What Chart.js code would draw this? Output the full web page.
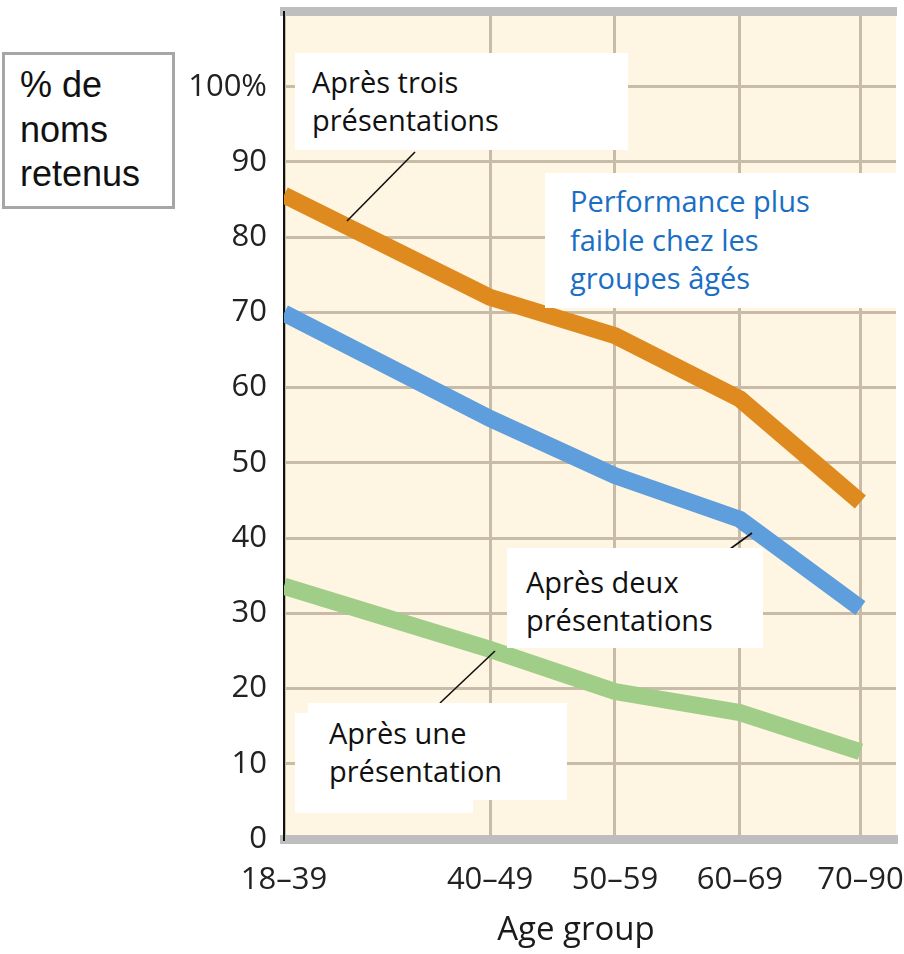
<!DOCTYPE html>
<html><head><meta charset="utf-8">
<script src="https://cdn.jsdelivr.net/npm/chart.js@4.4.1/dist/chart.umd.min.js"></script>
<style>
html,body{margin:0;padding:0;background:#fff;}
#wrap{position:relative;width:904px;height:954px;overflow:hidden;}
canvas{position:absolute;left:0;top:0;}
.box{position:absolute;background:#fff;font-family:'Open Sans',sans-serif;font-size:29px;line-height:38px;color:#111;box-sizing:border-box;white-space:nowrap;}
.patch{position:absolute;background:#fff;}
</style></head><body>
<div id="wrap">
<canvas id="c" width="904" height="954"></canvas>
<div class="box" style="left:2px;top:52px;width:173px;height:157px;border:3px solid #a6a6a6;font-family:'Liberation Sans',Arial,sans-serif;font-size:36px;line-height:44.5px;padding:8px 0 0 15px;">% de<br>noms<br>retenus</div>
<div class="box" style="left:295px;top:53px;width:333px;height:97px;padding:10px 0 0 17px;">Après trois<br>présentations</div>
<div class="box" style="left:545px;top:173px;width:351px;height:135px;padding:9px 0 0 25px;line-height:38.5px;color:#1a6ec4;">Performance plus<br>faible chez les<br>groupes âgés</div>
<div class="box" style="left:507px;top:548px;width:256px;height:100px;padding:15px 0 0 19px;">Après deux<br>présentations</div>
<div class="patch" style="left:295px;top:713px;width:178px;height:100px;"></div>
<div class="box" style="left:308px;top:703px;width:259px;height:97px;padding:11px 0 0 21px;">Après une<br>présentation</div>
</div>
<script>
const categories = ['18–39', '40–49', '50–59', '60–69', '70–90'];
const agePositions = [28.5, 45, 55, 65, 74.65];
const apresTrois = [85.6, 72.0, 66.9, 58.5, 44.8];
const apresDeux = [69.9, 55.9, 48.3, 42.5, 30.7];
const apresUne = [33.6, 25.2, 19.6, 16.8, 11.6];
const yTickValues = [0, 10, 20, 30, 40, 50, 60, 70, 80, 90, 100];
const yTickLabels = ['0', '10', '20', '30', '40', '50', '60', '70', '80', '90', '100%'];
const seriesNames = ['Après une présentation', 'Après deux présentations', 'Après trois présentations'];
const xAxisTitle = 'Age group';

const toPoints = vals => vals.map((v, i) => ({x: agePositions[i], y: v}));
const noPad = s => { s.paddingTop = 0; s.paddingBottom = 0; s.paddingLeft = 0; s.paddingRight = 0; };

const overlay = {
  id: 'overlay',
  beforeDraw(chart) {
    const {ctx, chartArea: a} = chart;
    ctx.save();
    ctx.fillStyle = '#fef5e2';
    ctx.fillRect(a.left, a.top, a.right - a.left, a.bottom - a.top);
    ctx.restore();
  },
  afterDraw(chart) {
    const ctx = chart.ctx;
    ctx.save();
    ctx.strokeStyle = '#111';
    ctx.lineWidth = 1.6;
    [[415, 152, 347, 221], [752, 533, 730, 549], [495, 651, 440, 703]].forEach(l => {
      ctx.beginPath(); ctx.moveTo(l[0], l[1]); ctx.lineTo(l[2], l[3]); ctx.stroke();
    });
    ctx.fillStyle = '#1a1a1a';
    ctx.font = "33px 'Open Sans'";
    ctx.textAlign = 'center';
    ctx.textBaseline = 'alphabetic';
    ctx.fillText(xAxisTitle, 576, 940);
    ctx.restore();
  }
};

function build() {
  new Chart(document.getElementById('c'), {
    type: 'line',
    data: {
      datasets: [
        {label: seriesNames[0], data: toPoints(apresUne), borderColor: '#a0cd87'},
        {label: seriesNames[1], data: toPoints(apresDeux), borderColor: '#5f9edc'},
        {label: seriesNames[2], data: toPoints(apresTrois), borderColor: '#df8a1e'}
      ]
    },
    options: {
      responsive: false,
      animation: false,
      layout: {padding: {left: 0, right: 8, top: 0, bottom: 0}},
      plugins: {legend: {display: false}, tooltip: {enabled: false}},
      datasets: {line: {clip: 0}},
      elements: {
        point: {radius: 0, hoverRadius: 0},
        line: {borderWidth: 17, tension: 0, borderCapStyle: 'butt', borderJoinStyle: 'miter', fill: false}
      },
      scales: {
        x: {
          type: 'linear', position: 'bottom', min: 28.5, max: 77.5,
          afterBuildTicks: s => { s.ticks = agePositions.map(v => ({value: v})); },
          afterFit: s => { s.height = 115; noPad(s); },
          grid: {color: '#c8bca8', lineWidth: 3, drawTicks: false},
          border: {color: '#bebebe', width: 9},
          ticks: {
            autoSkip: false, maxRotation: 0, padding: 23, color: '#222',
            font: {family: "'Open Sans'", size: 31},
            callback: v => { const i = agePositions.indexOf(v); return i >= 0 ? categories[i] : ''; }
          }
        },
        xTop: {
          type: 'linear', position: 'top', min: 28.5, max: 77.5,
          afterFit: s => { s.height = 11.5; noPad(s); },
          grid: {display: false, drawTicks: false},
          ticks: {display: false},
          border: {display: true, color: '#bebebe', width: 9}
        },
        y: {
          type: 'linear', min: 0, max: 110,
          afterBuildTicks: s => { s.ticks = yTickValues.map(v => ({value: v})); },
          afterFit: s => { s.width = 284; noPad(s); },
          grid: {color: '#c8bca8', lineWidth: 3, drawTicks: false},
          border: {color: '#111', width: 2},
          ticks: {
            padding: 17, color: '#222',
            font: {family: "'Open Sans'", size: 31},
            callback: v => { const i = yTickValues.indexOf(v); return i >= 0 ? yTickLabels[i] : ''; }
          }
        }
      }
    },
    plugins: [overlay]
  });
}
if (document.fonts && document.fonts.load) {
  Promise.all([document.fonts.load("29px 'Open Sans'"), document.fonts.load("36px 'Liberation Sans'")]).then(build, build);
} else { build(); }
</script>
</body></html>
